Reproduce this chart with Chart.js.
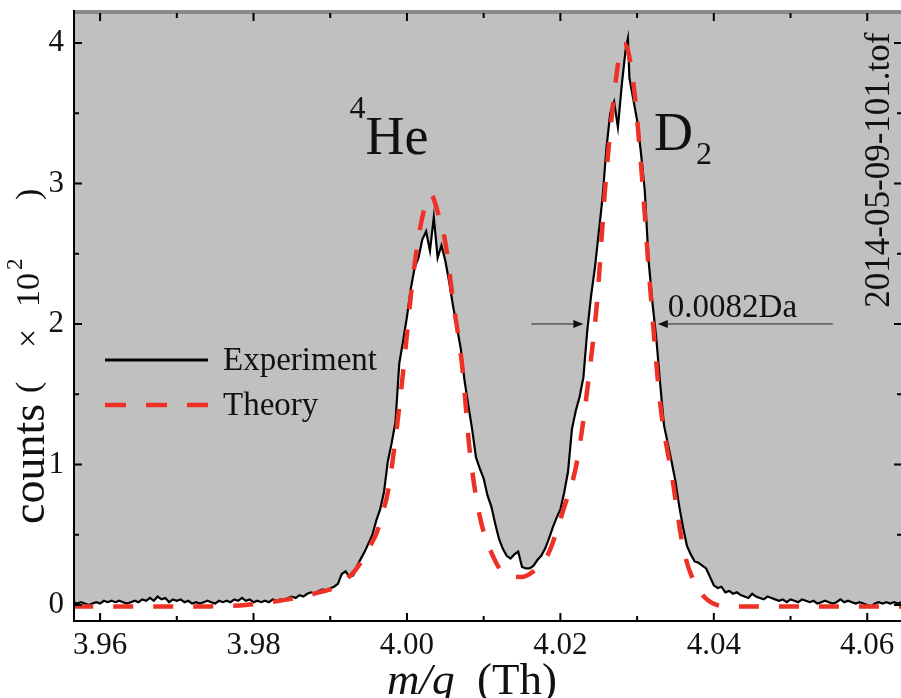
<!DOCTYPE html>
<html>
<head>
<meta charset="utf-8">
<script src="https://cdn.jsdelivr.net/npm/chart.js@4.4.1/dist/chart.umd.min.js"></script>
<style>
html,body{margin:0;padding:0;background:#fff;}
canvas{display:block;}
</style>
</head>
<body>
<canvas id="c" width="901" height="698"></canvas>
<script>
// ---------- data ----------
const expX = [3.9565,3.9570,3.9575,3.9580,3.9585,3.9590,3.9595,3.9600,3.9605,3.9610,3.9615,3.9620,3.9625,3.9630,3.9635,3.9640,3.9645,3.9650,3.9655,3.9660,3.9665,3.9670,3.9675,3.9680,3.9685,3.9690,3.9695,3.9700,3.9705,3.9710,3.9715,3.9720,3.9725,3.9730,3.9735,3.9740,3.9745,3.9750,3.9755,3.9760,3.9765,3.9770,3.9775,3.9780,3.9785,3.9790,3.9795,3.9800,3.9805,3.9810,3.9815,3.9820,3.9825,3.9830,3.9835,3.9840,3.9845,3.9850,3.9855,3.9860,3.9865,3.9870,3.9875,3.9880,3.9885,3.9890,3.9895,3.9900,3.9905,3.9910,3.9915,3.9920,3.9925,3.9930,3.9935,3.9940,3.9945,3.9950,3.9955,3.9960,3.9965,3.9970,3.9975,3.9980,3.9985,3.9990,3.9995,4.0000,4.0005,4.0010,4.0015,4.0020,4.0025,4.0030,4.0035,4.0040,4.0045,4.0050,4.0055,4.0060,4.0065,4.0070,4.0075,4.0080,4.0085,4.0090,4.0095,4.0100,4.0105,4.0110,4.0115,4.0120,4.0125,4.0130,4.0135,4.0140,4.0145,4.0150,4.0155,4.0160,4.0165,4.0170,4.0175,4.0180,4.0185,4.0190,4.0195,4.0200,4.0205,4.0210,4.0215,4.0220,4.0225,4.0230,4.0235,4.0240,4.0245,4.0250,4.0255,4.0260,4.0265,4.0270,4.0275,4.0280,4.0285,4.0288,4.0290,4.0295,4.0300,4.0305,4.0310,4.0315,4.0320,4.0325,4.0330,4.0335,4.0340,4.0345,4.0350,4.0355,4.0360,4.0365,4.0370,4.0375,4.0380,4.0385,4.0390,4.0395,4.0400,4.0405,4.0410,4.0415,4.0420,4.0425,4.0430,4.0435,4.0440,4.0445,4.0450,4.0455,4.0460,4.0465,4.0470,4.0475,4.0480,4.0485,4.0490,4.0495,4.0500,4.0505,4.0510,4.0515,4.0520,4.0525,4.0530,4.0535,4.0540,4.0545,4.0550,4.0555,4.0560,4.0565,4.0570,4.0575,4.0580,4.0585,4.0590,4.0595,4.0600,4.0605,4.0610,4.0615,4.0620,4.0625,4.0630,4.0635,4.0640,4.0645];
const expY = [0.02,0.01,0.02,0.01,0.00,0.01,0.02,0.01,0.03,0.02,0.03,0.02,0.03,0.02,0.01,0.02,0.03,0.02,0.04,0.03,0.05,0.03,0.06,0.04,0.05,0.02,0.04,0.03,0.04,0.02,0.03,0.01,0.02,0.01,0.02,0.03,0.02,0.01,0.03,0.02,0.03,0.02,0.04,0.03,0.05,0.03,0.04,0.02,0.03,0.02,0.03,0.02,0.04,0.03,0.04,0.03,0.05,0.06,0.05,0.07,0.06,0.08,0.09,0.08,0.10,0.11,0.10,0.12,0.13,0.15,0.22,0.24,0.20,0.21,0.28,0.33,0.38,0.44,0.50,0.60,0.68,0.80,1.02,1.15,1.30,1.72,1.88,2.05,2.25,2.40,2.47,2.60,2.66,2.52,2.76,2.47,2.56,2.45,2.30,2.13,1.98,1.83,1.60,1.42,1.25,1.05,0.97,0.90,0.78,0.70,0.58,0.47,0.40,0.35,0.33,0.36,0.38,0.27,0.26,0.26,0.28,0.32,0.35,0.40,0.47,0.55,0.62,0.68,0.80,0.95,1.25,1.38,1.48,1.62,1.95,2.20,2.40,2.65,2.90,3.25,3.50,3.58,3.40,3.70,3.95,4.03,3.75,3.60,3.45,3.22,2.95,2.45,2.15,1.90,1.58,1.28,1.15,1.02,0.88,0.70,0.55,0.42,0.36,0.31,0.30,0.28,0.26,0.20,0.14,0.12,0.13,0.09,0.10,0.08,0.09,0.07,0.06,0.05,0.08,0.06,0.05,0.04,0.06,0.05,0.04,0.03,0.04,0.02,0.04,0.03,0.02,0.04,0.03,0.02,0.03,0.01,0.02,0.03,0.02,0.01,0.02,0.04,0.02,0.03,0.02,0.01,0.02,0.01,0.00,-0.01,0.01,0.02,0.01,0.02,0.01,0.02,0.01,0.02];

const theoryX = [3.9565,3.9650,3.9740,3.9790,3.9822,3.9845,3.9865,3.9885,3.9909,3.9922,3.9930,3.9943,3.9952,3.9961,3.9968,3.9975,3.9985,3.9995,4.0008,4.0020,4.0031,4.0042,4.0050,4.0060,4.0072,4.0082,4.0095,4.0112,4.0130,4.0150,4.0165,4.0183,4.0204,4.0222,4.0239,4.0248,4.0258,4.0267,4.0278,4.0284,4.0294,4.0304,4.0317,4.0330,4.0346,4.0360,4.0373,4.0391,4.0417,4.0500,4.0645];
const theoryY = [-0.01,-0.01,-0.01,0.00,0.02,0.04,0.06,0.09,0.13,0.19,0.23,0.33,0.42,0.52,0.65,0.80,1.18,1.66,2.34,2.76,2.92,2.76,2.58,2.17,1.70,1.09,0.63,0.35,0.21,0.20,0.24,0.35,0.68,1.03,1.71,2.17,2.94,3.48,3.94,3.99,3.76,3.21,2.26,1.44,0.90,0.41,0.18,0.04,-0.01,-0.01,-0.01];

const seriesNames = ['Experiment', 'Theory'];
const xRange = [3.9566, 4.0644];
const yRange = [-0.114, 4.213];
const xLabelStep = 0.02;
const yLabelStep = 1;

// annotation positions in data units
const heLabel = {x: 3.9946, y: 3.21};
const d2Label = {x: 4.0322, y: 3.24};
const fileLabel = {x: 4.0616, y: 3.095, text: '2014-05-09-101.tof'};
const fwhm = {y: 2.0, left: 4.0230, right: 4.0327, leftTail: 4.0162, rightTail: 4.0555, text: '0.0082Da'};

// ---------- chart ----------
const SERIF = '"Liberation Serif", serif';
const toPts = (xs, ys) => xs.map((x, i) => ({x: x, y: ys[i]}));

const decor = {
  id: 'decor',
  beforeDraw(chart) {
    const {ctx, chartArea: a} = chart;
    ctx.save();
    ctx.fillStyle = '#c0c0c0';
    ctx.fillRect(a.left, a.top, a.right - a.left, a.bottom - a.top);
    ctx.restore();
  },
  afterDraw(chart) {
    const {ctx, chartArea: a} = chart;
    const xs = chart.scales.x, ys = chart.scales.y;
    ctx.save();
    // top border
    ctx.fillStyle = '#8a8a8a';
    ctx.fillRect(a.left, a.top - 3, a.right - a.left, 4);
    // axis lines
    ctx.strokeStyle = '#000';
    ctx.lineWidth = 2;
    ctx.beginPath();
    ctx.moveTo(a.left, a.top - 3); ctx.lineTo(a.left, a.bottom + 1);
    ctx.moveTo(a.left - 1, a.bottom); ctx.lineTo(a.right, a.bottom);
    ctx.stroke();
    // ticks (inward)
    const xt = xs.ticks.map(t => t.value);
    const xMinor = [];
    for (let i = 0; i < xt.length; i++) {
      xMinor.push(xt[i] - xLabelStep / 2);
      if (i === xt.length - 1) xMinor.push(xt[i] + xLabelStep / 2);
    }
    ctx.lineWidth = 2;
    ctx.beginPath();
    xt.forEach(v => { const p = xs.getPixelForValue(v); ctx.moveTo(p, a.bottom); ctx.lineTo(p, a.bottom - 8); ctx.moveTo(p, a.top); ctx.lineTo(p, a.top + 8); });
    xMinor.forEach(v => { if (v < xs.min || v > xs.max) return; const p = xs.getPixelForValue(v); ctx.moveTo(p, a.bottom); ctx.lineTo(p, a.bottom - 5); ctx.moveTo(p, a.top); ctx.lineTo(p, a.top + 5); });
    const yt = ys.ticks.map(t => t.value);
    yt.forEach(v => { const p = ys.getPixelForValue(v); ctx.moveTo(a.left, p); ctx.lineTo(a.left + 8, p); ctx.moveTo(a.right, p); ctx.lineTo(a.right - 7, p); });
    yt.forEach(v => { const m = v + yLabelStep / 2; if (m > ys.max) return; const p = ys.getPixelForValue(m); ctx.moveTo(a.left, p); ctx.lineTo(a.left + 5, p); ctx.moveTo(a.right, p); ctx.lineTo(a.right - 4, p); });
    ctx.stroke();

    ctx.fillStyle = '#111';
    ctx.textBaseline = 'alphabetic';
    // 4He
    let px = xs.getPixelForValue(heLabel.x), py = ys.getPixelForValue(heLabel.y);
    ctx.font = '54px ' + SERIF;
    ctx.textAlign = 'left';
    ctx.fillText('He', px, py);
    ctx.font = '32px ' + SERIF;
    ctx.textAlign = 'right';
    ctx.fillText('4', px, py - 36);
    // D2
    px = xs.getPixelForValue(d2Label.x); py = ys.getPixelForValue(d2Label.y);
    ctx.font = '54px ' + SERIF;
    ctx.textAlign = 'left';
    ctx.fillText('D', px, py);
    const dw = ctx.measureText('D').width;
    ctx.font = '32px ' + SERIF;
    ctx.fillText('2', px + dw + 3, py + 14);
    // file name rotated
    px = xs.getPixelForValue(fileLabel.x); py = ys.getPixelForValue(fileLabel.y);
    ctx.save();
    ctx.translate(px, py);
    ctx.rotate(-Math.PI / 2);
    ctx.font = '35px ' + SERIF;
    ctx.textAlign = 'center';
    ctx.textBaseline = 'middle';
    ctx.fillText(fileLabel.text, 0, 0);
    ctx.restore();
    // FWHM arrows
    const ay = ys.getPixelForValue(fwhm.y);
    const l1 = xs.getPixelForValue(fwhm.leftTail), l2 = xs.getPixelForValue(fwhm.left);
    const r1 = xs.getPixelForValue(fwhm.rightTail), r2 = xs.getPixelForValue(fwhm.right);
    ctx.strokeStyle = '#222';
    ctx.lineWidth = 1;
    ctx.beginPath();
    ctx.moveTo(l1, ay); ctx.lineTo(l2 - 6, ay);
    ctx.moveTo(r1, ay); ctx.lineTo(r2 + 6, ay);
    ctx.stroke();
    ctx.fillStyle = '#111';
    ctx.beginPath();
    ctx.moveTo(l2, ay); ctx.lineTo(l2 - 10, ay - 4); ctx.lineTo(l2 - 10, ay + 4); ctx.closePath(); ctx.fill();
    ctx.beginPath();
    ctx.moveTo(r2, ay); ctx.lineTo(r2 + 10, ay - 4); ctx.lineTo(r2 + 10, ay + 4); ctx.closePath(); ctx.fill();
    ctx.font = '33px ' + SERIF;
    ctx.textAlign = 'left';
    ctx.textBaseline = 'alphabetic';
    ctx.fillText(fwhm.text, r2 + 10, ay - 7);

    // legend
    const lx = a.left + 31, lw = 103, tx = a.left + 149;
    const ly1 = a.top + 347, ly2 = a.top + 392;
    ctx.strokeStyle = '#000';
    ctx.lineWidth = 3;
    ctx.beginPath(); ctx.moveTo(lx, ly1); ctx.lineTo(lx + lw, ly1); ctx.stroke();
    ctx.strokeStyle = '#ee3124';
    ctx.lineWidth = 4.5;
    ctx.setLineDash([21, 20]);
    ctx.beginPath(); ctx.moveTo(lx, ly2); ctx.lineTo(lx + lw, ly2); ctx.stroke();
    ctx.setLineDash([]);
    ctx.fillStyle = '#111';
    ctx.font = '33px ' + SERIF;
    ctx.textBaseline = 'middle';
    ctx.fillText(seriesNames[0], tx, ly1 + 1);
    ctx.fillText(seriesNames[1], tx, ly2 + 1);

    // x title
    ctx.textBaseline = 'alphabetic';
    ctx.textAlign = 'left';
    const tyx = 694;
    const sx = 387;
    ctx.font = 'italic 45px ' + SERIF;
    const w1 = ctx.measureText('m/q').width;
    ctx.fillText('m/q', sx, tyx);
    ctx.font = '45px ' + SERIF;
    ctx.fillText('  (Th)', sx + w1, tyx);

    // y title
    ctx.save();
    ctx.translate(44, 524);
    ctx.rotate(-Math.PI / 2);
    ctx.font = '46px ' + SERIF;
    ctx.fillText('counts', 0, 0);
    ctx.font = '34px ' + SERIF;
    ctx.fillText('(', 131, -5);
    ctx.fillText('\u00d7', 176, -5);
    ctx.fillText('10', 217, -5);
    ctx.font = '23px ' + SERIF;
    ctx.fillText('2', 254, -22);
    ctx.font = '34px ' + SERIF;
    ctx.fillText(')', 324, -5);
    ctx.restore();

    ctx.restore();
  }
};

new Chart(document.getElementById('c'), {
  type: 'line',
  data: {
    datasets: [
      {
        label: seriesNames[1],
        data: toPts(theoryX, theoryY),
        borderColor: '#ee3124',
        borderWidth: 4.5,
        borderDash: [20, 20],
        pointRadius: 0,
        fill: false,
        cubicInterpolationMode: 'monotone'
      },
      {
        label: seriesNames[0],
        data: toPts(expX, expY),
        borderColor: '#000',
        borderWidth: 2.2,
        pointRadius: 0,
        tension: 0,
        fill: 'start',
        backgroundColor: '#ffffff'
      }
    ]
  },
  options: {
    responsive: false,
    animation: false,
    devicePixelRatio: 1,
    layout: {padding: {top: 13, right: 0, left: 0, bottom: 0}},
    plugins: {legend: {display: false}, tooltip: {enabled: false}},
    scales: {
      x: {
        type: 'linear',
        min: xRange[0], max: xRange[1],
        grid: {display: false, drawTicks: false},
        border: {display: false},
        afterFit: s => { s.height = 77; s.paddingLeft = 0; s.paddingRight = 0; },
        ticks: {
          stepSize: xLabelStep,
          includeBounds: false,
          padding: 6,
          color: '#111',
          font: {family: 'Liberation Serif', size: 31},
          maxRotation: 0,
          autoSkip: false,
          callback: v => Number(v).toFixed(2)
        }
      },
      y: {
        type: 'linear',
        min: yRange[0], max: yRange[1],
        grid: {display: false, drawTicks: false},
        border: {display: false},
        afterFit: s => { s.width = 74; s.paddingTop = 0; s.paddingBottom = 0; },
        ticks: {
          stepSize: yLabelStep,
          includeBounds: false,
          padding: 10,
          color: '#111',
          font: {family: 'Liberation Serif', size: 31},
          callback: v => Number(v).toFixed(0)
        }
      }
    }
  },
  plugins: [decor]
});
</script>
</body>
</html>
